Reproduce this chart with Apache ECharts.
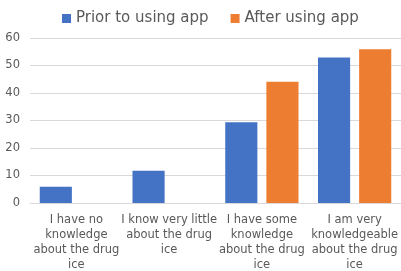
<!DOCTYPE html>
<html><head><meta charset="utf-8">
<script src="https://cdn.jsdelivr.net/npm/echarts@6/dist/echarts.min.js"></script>
<style>html,body{margin:0;padding:0;background:#fff}#c{width:401px;height:271px}</style>
</head><body><div id="c"></div>
<script>
const categories = [
  "I have no\nknowledge\nabout the drug\nice",
  "I know very little\nabout the drug\nice",
  "I have some\nknowledge\nabout the drug\nice",
  "I am very\nknowledgeable\nabout the drug\nice"
];
const seriesNames = ["Prior to using app", "After using app"];
const priorValues = [5.9, 11.7, 29.4, 52.9];
const afterValues = [null, null, 44.1, 55.9];
const yTicks = { min: 0, max: 60, interval: 10 };

const font = "DejaVu Sans";
const chart = echarts.init(document.getElementById('c'), null, {renderer: 'canvas'});
chart.setOption({
  animation: false,
  textStyle: { fontFamily: font },
  legend: {
    top: 6, left: 57, itemWidth: 9, itemHeight: 9, itemGap: 22,
    icon: 'rect',
    textStyle: { fontSize: 15, color: '#595959', fontFamily: font }
  },
  grid: { left: 30, right: 0, top: 38, bottom: 68, containLabel: false, outerBoundsMode: 'none' },
  xAxis: {
    type: 'category', data: categories,
    axisLine: { lineStyle: { color: '#d9d9d9' } },
    axisTick: { show: false },
    axisLabel: { interval: 0, color: '#595959', fontSize: 11.5, lineHeight: 15, margin: 10, fontFamily: font }
  },
  yAxis: {
    type: 'value', min: yTicks.min, max: yTicks.max, interval: yTicks.interval,
    axisLine: { show: false }, axisTick: { show: false },
    splitLine: { lineStyle: { color: '#d9d9d9' } },
    axisLabel: { color: '#595959', fontSize: 11.5, margin: 10, fontFamily: font }
  },
  series: [
    { name: seriesNames[0], type: 'bar', data: priorValues, barGap: '28%', barCategoryGap: '21%',
      itemStyle: { color: '#4472C4' } },
    { name: seriesNames[1], type: 'bar', data: afterValues,
      itemStyle: { color: '#ED7D31' } }
  ]
});
</script></body></html>
